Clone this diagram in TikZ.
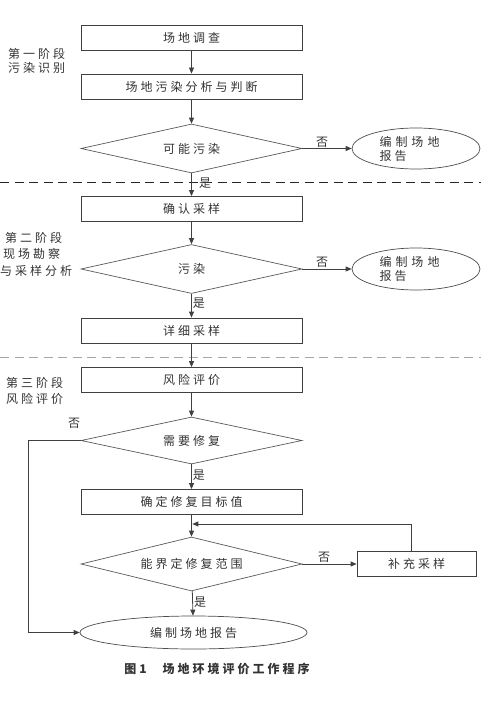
\documentclass[tikz,border=0pt]{standalone}
\usepackage{fontspec}
\setmainfont{Noto Sans CJK SC}[LetterSpace=25]
\usetikzlibrary{shapes.geometric,arrows.meta}
\begin{document}
\begin{tikzpicture}[x=1pt,y=-1pt,
  every node/.style={font=\fontsize{12}{15}\selectfont, text=black!80},
  proc/.style={draw=black!75, line width=0.8pt, minimum width=221pt, minimum height=25pt, inner sep=0pt},
  dec/.style={diamond, aspect=4, draw=black!65, line width=0.7pt, minimum width=221pt, minimum height=49pt, inner sep=0pt},
  term/.style={ellipse, draw=black!70, line width=0.7pt, inner sep=0pt},
  twoline/.style={align=left, text width=73pt, font=\fontsize{12}{14}\selectfont},
  conn/.style={draw=black!75, line width=0.8pt, -{Triangle[length=6pt,width=5pt]}},
  lab/.style={font=\fontsize{12}{14}\selectfont, inner sep=1pt},
  phase/.style={anchor=west, align=left, inner sep=0pt},
  sep/.style={line width=0.8pt, dash pattern=on 9pt off 5.5pt}
]
\useasboundingbox (0,0) rectangle (481,709);

% separators
\coordinate (s1a) at (0,182);   \coordinate (s1b) at (481,182);
\coordinate (s2a) at (0,357);   \coordinate (s2b) at (481,357);
\draw[sep, draw=black!85] (s1a) -- (s1b);
\draw[sep, draw=black!35] (s2a) -- (s2b);

% phase labels
\node[phase, font=\fontsize{12}{14}\selectfont] (p1) at (8,61) {第一阶段\\污染识别};
\node[phase, font=\fontsize{12}{16.5}\selectfont] (p2) at (0,254) {\hspace{5pt}第二阶段\\\hspace{3pt}现场勘察\\与采样分析};
\node[phase, font=\fontsize{12}{16}\selectfont] (p3) at (6,391) {第三阶段\\风险评价};

% nodes
\node[proc] (b1) at (191.5,38) {场地调查};
\node[proc] (b2) at (191.5,86.5) {场地污染分析与判断};
\node[dec] (d1) at (191.5,148.5) {可能污染};
\node[term, minimum width=128pt, minimum height=41pt, twoline] (e1) at (416,148.5)
  {编\hspace{4pt}制\hspace{4pt}场\hspace{4pt}地\\报告};
\node[proc] (b3) at (191.5,209) {确认采样};
\node[dec] (d2) at (191.5,269) {污染};
\node[term, minimum width=128pt, minimum height=42pt, twoline] (e2) at (416,269)
  {编\hspace{4pt}制\hspace{4pt}场\hspace{4pt}地\\报告};
\node[proc] (b4) at (191.5,330.5) {详细采样};
\node[proc] (b5) at (191.5,380) {风险评价};
\node[dec, minimum height=47pt] (d3) at (191.5,440.5) {需要修复};
\node[proc] (b6) at (191.5,502) {确定修复目标值};
\node[dec, minimum height=54pt] (d4) at (191.5,564) {能界定修复范围};
\node[proc, minimum width=119pt] (b7) at (416.5,564) {补充采样};
\node[term, minimum width=227pt, minimum height=33pt] (e3) at (193.5,632.5) {编制场地报告};

% caption
\node (cap) at (217,669) {\bfseries 图1\hspace{16pt}场地环境评价工作程序};

% connectors
\draw[conn] (b1) -- (b2);
\draw[conn] (b2) -- (d1);
\draw[conn] (d1) -- node[lab, above, pos=0.4] {否} (e1);
\draw[conn] (d1) -- (b3);
\node[lab] (y1) at (205,183) {是};
\draw[conn] (b3) -- (d2);
\draw[conn] (d2) -- node[lab, above, pos=0.4] {否} (e2);
\draw[conn] (d2) -- node[lab, right, pos=0.4] {是} (b4);
\draw[conn] (b4) -- (b5);
\draw[conn] (b5) -- (d3);
\draw[conn] (d3) -- node[lab, right, pos=0.45] {是} (b6);
\draw[conn] (b6) -- (d4);
\draw[conn] (d4) -- node[lab, above, pos=0.4] {否} (b7);
\draw[conn] (d4) -- node[lab, right, pos=0.45] {是} (e3);

\coordinate (c1) at (28,440.5);
\draw[conn] (d3.west) -- (c1) |- (e3.west);
\node[lab] (n3) at (74,423) {否};

\coordinate (c2) at (411.5,524);
\coordinate (fb) at (192.3,524);
\draw[conn] (c2 |- b7.north) -- (c2) -- (fb);
\end{tikzpicture}
\end{document}
